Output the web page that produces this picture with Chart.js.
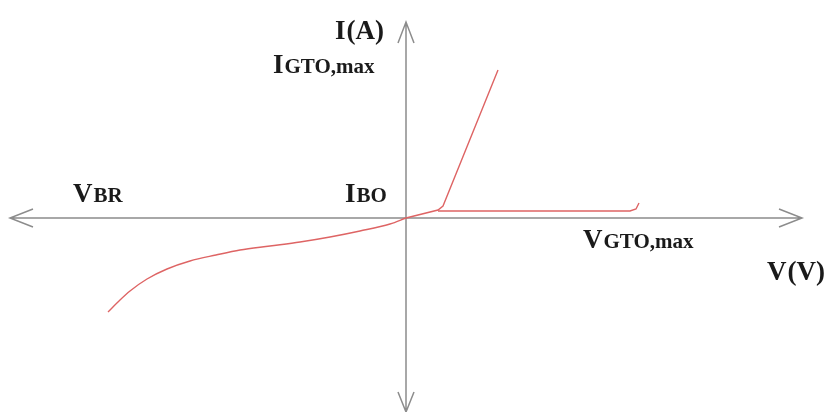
<!DOCTYPE html>
<html>
<head>
<meta charset="utf-8">
<script src="https://cdn.jsdelivr.net/npm/chart.js@4"></script>
<style>
  html, body { margin: 0; padding: 0; background: #fff; }
  #wrap { width: 826px; height: 412px; position: relative; }
</style>
</head>
<body>
<div id="wrap"><canvas id="chart"></canvas></div>
<script>
// reverse (blocking / breakdown) branch, V and I in arbitrary units
const reverseV = [0, -1.6, -4.6, -7.6, -10.6, -13.6, -16.6, -19.0, -21.6, -23.9, -25.9, -27.6, -28.6, -29.8];
const reverseI = [0, -0.6, -1.3, -1.9, -2.4, -2.8, -3.2, -3.7, -4.3, -5.1, -6.1, -7.3, -8.2, -9.4];

// on-state branch
const onV = [0, 3.2, 3.7, 9.2];
const onI = [0, 0.8, 1.2, 14.8];

// forward blocking branch up to V_GTO,max
const blockV = [3.2, 22.4, 23.0, 23.3];
const blockI = [0.7, 0.7, 0.9, 1.5];

// axis extents
const axisV = [-39.6, 39.6];
const axisI = [-19.4, 19.6];

// text labels: [main letter, rest, V, I]
const labels = [
  ['I', '(A)', -7.1, 17.9],
  ['I', 'GTO,max', -13.3, 14.5],
  ['V', 'BR', -33.3, 1.6],
  ['I', 'BO', -6.1, 1.6],
  ['V', 'GTO,max', 17.7, -3.0],
  ['V', '(V)', 36.1, -6.2],
];

const pts = (xs, ys) => xs.map((x, i) => ({ x: x, y: ys[i] }));

const red = 'rgb(222, 100, 100)';
const grey = 'rgb(140, 140, 140)';

const axesPlugin = {
  id: 'axes',
  beforeDatasetsDraw(chart) {
    const { ctx, scales } = chart;
    const x = scales.x, y = scales.y;
    const x0 = x.getPixelForValue(0), y0 = y.getPixelForValue(0);
    const xl = x.getPixelForValue(axisV[0]), xr = x.getPixelForValue(axisV[1]);
    const yb = y.getPixelForValue(axisI[0]), yt = y.getPixelForValue(axisI[1]);
    ctx.save();
    ctx.strokeStyle = grey;
    ctx.lineWidth = 1.5;
    ctx.beginPath();
    ctx.moveTo(xl, y0); ctx.lineTo(xr, y0);
    ctx.moveTo(x0, yt); ctx.lineTo(x0, yb);
    // arrow heads
    ctx.moveTo(xr - 23, y0 - 9); ctx.lineTo(xr, y0); ctx.lineTo(xr - 23, y0 + 9);
    ctx.moveTo(xl + 23, y0 - 9); ctx.lineTo(xl, y0); ctx.lineTo(xl + 23, y0 + 9);
    ctx.moveTo(x0 - 8, yt + 21); ctx.lineTo(x0, yt); ctx.lineTo(x0 + 8, yt + 21);
    ctx.moveTo(x0 - 8, yb - 20); ctx.lineTo(x0, yb); ctx.lineTo(x0 + 8, yb - 20);
    ctx.stroke();
    ctx.restore();
  },
  afterDatasetsDraw(chart) {
    const { ctx, scales } = chart;
    ctx.save();
    ctx.fillStyle = '#1a1a1a';
    ctx.textBaseline = 'alphabetic';
    labels.forEach(([big, rest, v, i]) => {
      const px = scales.x.getPixelForValue(v);
      const py = scales.y.getPixelForValue(i);
      ctx.font = 'bold 27px "Liberation Serif"';
      ctx.fillText(big, px, py);
      const w = ctx.measureText(big).width;
      ctx.font = rest.startsWith('(') ? 'bold 27px "Liberation Serif"' : 'bold 21px "Liberation Serif"';
      ctx.fillText(rest, px + w + 1, py);
    });
    ctx.restore();
  }
};

const line = (data, mode) => ({
  data: data,
  showLine: true,
  borderColor: red,
  borderWidth: 1.4,
  pointRadius: 0,
  fill: false,
  cubicInterpolationMode: mode || 'default',
  tension: mode ? 0.4 : 0,
});

new Chart(document.getElementById('chart').getContext('2d'), {
  type: 'scatter',
  data: {
    datasets: [
      line(pts(reverseV, reverseI), 'monotone'),
      line(pts(onV, onI)),
      line(pts(blockV, blockI)),
    ],
  },
  options: {
    responsive: true,
    maintainAspectRatio: false,
    animation: false,
    layout: { padding: 0 },
    plugins: { legend: { display: false }, tooltip: { enabled: false } },
    scales: {
      x: { type: 'linear', display: false, min: -40.6, max: 42.0 },
      y: { type: 'linear', display: false, min: -19.4, max: 21.8 },
    },
  },
  plugins: [axesPlugin],
});
</script>
</body>
</html>
